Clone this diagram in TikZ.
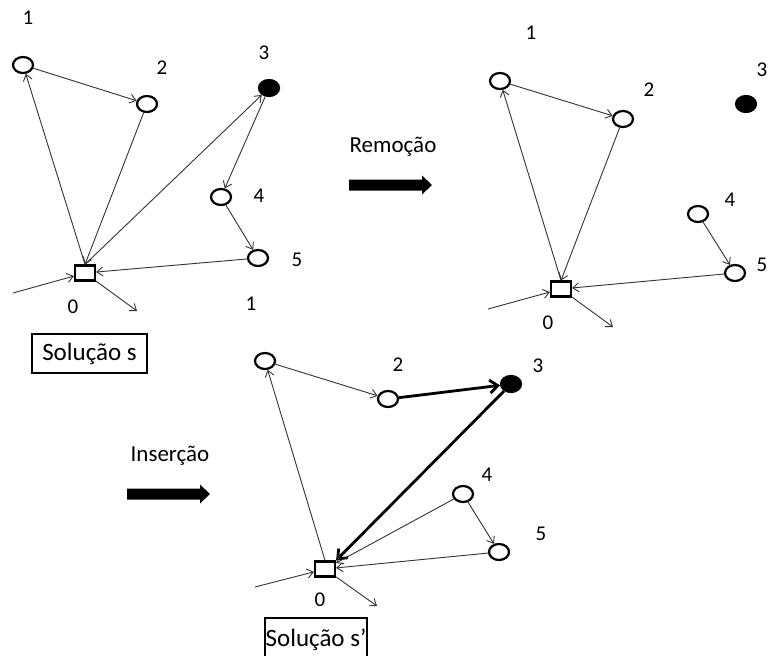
\documentclass[tikz,border=0pt]{standalone}
\usepackage{fontspec}
\setmainfont{Carlito}
\usetikzlibrary{arrows.meta,shapes.geometric}
\begin{document}
\begin{tikzpicture}[x=1pt,y=-1pt,
  cust/.style={draw, ellipse, line width=2.2pt, minimum width=20pt, minimum height=16pt, inner sep=0pt},
  custfill/.style={cust, fill=black},
  depot/.style={draw, rectangle, line width=2.2pt, minimum width=20pt, minimum height=15pt, inner sep=0pt},
  lbl/.style={font=\fontsize{21}{21}\selectfont, inner sep=0pt},
  edge/.style={draw=black!80, line width=0.9pt, -{Straight Barb[length=6pt,width=9pt]}},
  tedge/.style={draw=black, line width=2.8pt, -{Straight Barb[length=8pt,width=13pt]}},
  optext/.style={font=\fontsize{23}{23}\selectfont, inner sep=0pt},
  solbox/.style={draw, line width=2pt, font=\fontsize{25}{25}\selectfont, inner sep=0pt}
]
\clip (0,0) rectangle (769,656);
\fill[white] (0,0) rectangle (769,656);

% ---------- Panel 1 : Solucao s ----------
\node[cust] (n1) at (23,65) {};
\node[cust] (n2) at (147,104) {};
\node[custfill] (n3) at (269,88) {};
\node[cust] (n4) at (221,197) {};
\node[cust] (n5) at (258,258) {};
\node[depot] (d1) at (85,273) {};
\node[lbl] (l1a) at (28,18) {1};
\node[lbl] (l1b) at (162,68) {2};
\node[lbl] (l1c) at (264,53) {3};
\node[lbl] (l1d) at (259,196) {4};
\node[lbl] (l1e) at (297,260) {5};
\node[lbl] (l1f) at (73,307) {0};
\node[lbl] (l3a) at (251,304) {1};
\coordinate (in1) at (13,293);
\coordinate (out1) at (137,311);
\draw[edge] (in1) -- (d1);
\draw[edge] (d1) -- (out1);
\draw[edge] (d1.north) -- (n1);
\draw[edge] (n1) -- (n2);
\draw[edge] (n2) -- (d1.north);
\draw[edge] (d1.north) -- (n3);
\draw[edge] (n3) -- (n4);
\draw[edge] (n4) -- (n5);
\draw[edge] (n5) -- (d1);
\node[solbox, minimum width=115pt, minimum height=39pt] (s1) at (89.5,353.5) {Solução s};

% ---------- Remocao ----------
\node[optext] (rem) at (393,147) {Remoção};
\fill (349,179.5) -- (422,179.5) -- (422,175.5) -- (432,185) -- (422,194.5) -- (422,190.5) -- (349,190.5) -- cycle;

% ---------- Panel 2 ----------
\node[cust] (m1) at (500,81) {};
\node[cust] (m2) at (623,119) {};
\node[custfill] (m3) at (746,104) {};
\node[cust] (m4) at (698,214) {};
\node[cust] (m5) at (735,273) {};
\node[depot] (d2) at (561,289) {};
\node[lbl] (l2a) at (531,33) {1};
\node[lbl] (l2b) at (649,90) {2};
\node[lbl] (l2c) at (762,70) {3};
\node[lbl] (l2d) at (730,200) {4};
\node[lbl] (l2e) at (762,265) {5};
\node[lbl] (l2f) at (548,323) {0};
\coordinate (in2) at (488,309);
\coordinate (out2) at (613,327);
\draw[edge] (in2) -- (d2);
\draw[edge] (d2) -- (out2);
\draw[edge] (d2.north) -- (m1);
\draw[edge] (m1) -- (m2);
\draw[edge] (m2) -- (d2.north);
\draw[edge] (m4) -- (m5);
\draw[edge] (m5) -- (d2);

% ---------- Insercao ----------
\node[optext] (ins) at (170,456) {Inserção};
\fill (127,488.5) -- (200,488.5) -- (200,484.5) -- (210,494) -- (200,503.5) -- (200,499.5) -- (127,499.5) -- cycle;

% ---------- Panel 3 ----------
\node[cust] (p1) at (265,361) {};
\node[cust] (p2) at (388,399) {};
\node[custfill] (p3) at (511,384) {};
\node[cust] (p4) at (463,494) {};
\node[cust] (p5) at (499,552) {};
\node[depot] (d3) at (325,569) {};
\node[lbl] (l3b) at (398,365) {2};
\node[lbl] (l3c) at (538,366) {3};
\node[lbl] (l3d) at (487,475) {4};
\node[lbl] (l3e) at (541,534) {5};
\node[lbl] (l3f) at (320,600) {0};
\coordinate (in3) at (255,587);
\coordinate (out3) at (377,606);
\draw[edge] (in3) -- (d3);
\draw[edge] (d3) -- (out3);
\draw[edge] (d3.north) -- (p1);
\draw[edge] (p1) -- (p2);
\draw[tedge] (p2) -- (p3);
\draw[tedge] (p3) -- (d3.north east);
\draw[edge] (p4) -- (d3);
\draw[edge] (p4) -- (p5);
\draw[edge] (p5) -- (d3);
\node[solbox, minimum width=102pt, minimum height=44pt] (s2) at (316,640) {Solução s’};
\end{tikzpicture}
\end{document}
